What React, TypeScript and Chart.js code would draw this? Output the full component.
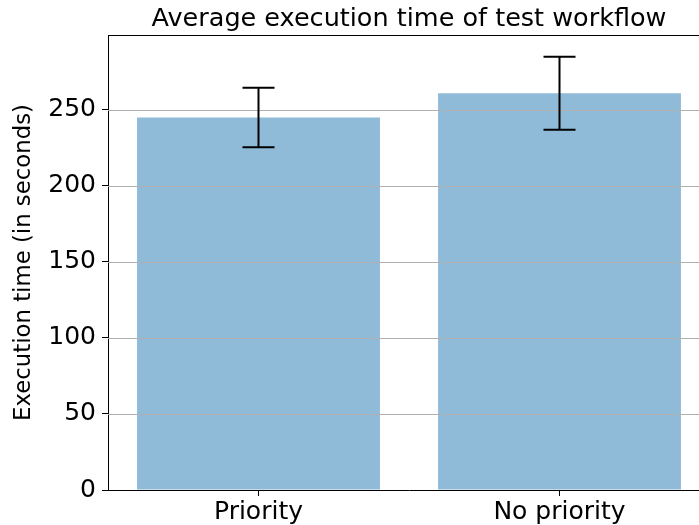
import React, { useEffect, useRef } from "react";
import { Chart, registerables } from "chart.js";

Chart.register(...registerables);

const categories = ["Priority", "No priority"];
const meanTimes = [245, 261];
const errLow = [225.5, 237];
const errHigh = [264.5, 285];
const yTicks = [0, 50, 100, 150, 200, 250];

const titleText = "Average execution time of test workflow";
const yLabel = "Execution time (in seconds)";
const FONT = "'DejaVu Sans', sans-serif";

const extrasPlugin = {
  id: "extras",
  afterDatasetsDraw(chart: any) {
    const ctx = chart.ctx;
    const a = chart.chartArea;
    const ys = chart.scales.y;
    ctx.save();
    ctx.strokeStyle = "#b0b0b0";
    ctx.lineWidth = 1.2;
    yTicks.forEach((v) => {
      if (v === 0) return;
      const y = Math.round(ys.getPixelForValue(v)) + 0.5;
      ctx.beginPath();
      ctx.moveTo(a.left, y);
      ctx.lineTo(a.right, y);
      ctx.stroke();
    });
    ctx.restore();
  },
  afterDraw(chart: any) {
    const ctx = chart.ctx;
    const a = chart.chartArea;
    const meta = chart.getDatasetMeta(0);
    const ys = chart.scales.y;
    ctx.save();
    ctx.strokeStyle = "#000";
    ctx.lineWidth = 2;
    meta.data.forEach((bar: any, i: number) => {
      const x = bar.x;
      const yl = ys.getPixelForValue(errLow[i]);
      const yh = ys.getPixelForValue(errHigh[i]);
      ctx.beginPath();
      ctx.moveTo(x, yl);
      ctx.lineTo(x, yh);
      ctx.moveTo(x - 16, yl);
      ctx.lineTo(x + 16, yl);
      ctx.moveTo(x - 16, yh);
      ctx.lineTo(x + 16, yh);
      ctx.stroke();
    });
    ctx.lineWidth = 1;
    ctx.beginPath();
    ctx.moveTo(a.left, a.top + 0.5);
    ctx.lineTo(a.right, a.top + 0.5);
    ctx.stroke();
    ctx.fillStyle = "#000";
    ctx.font = `25.5px ${FONT}`;
    ctx.textAlign = "center";
    ctx.textBaseline = "alphabetic";
    ctx.fillText(titleText, (a.left + a.right) / 2, 26);
    ctx.restore();
  },
};

export default function App() {
  const ref = useRef<HTMLCanvasElement | null>(null);
  useEffect(() => {
    if (!ref.current) return;
    const chart = new Chart(ref.current, {
      type: "bar",
      data: {
        labels: categories,
        datasets: [
          {
            data: meanTimes,
            backgroundColor: "rgba(31,119,180,0.5)",
            borderWidth: 0,
            barPercentage: 0.807,
            categoryPercentage: 1,
          },
        ],
      },
      options: {
        animation: false,
        responsive: true,
        maintainAspectRatio: false,
        layout: { padding: { top: 35, right: 10, left: 0, bottom: 0 } },
        plugins: {
          legend: { display: false },
          tooltip: { enabled: false },
          title: { display: false },
        },
        scales: {
          x: {
            grid: {
              display: true,
              drawOnChartArea: false,
              drawTicks: true,
              tickLength: 6,
              tickColor: "#000",
              offset: false,
            },
            border: { color: "#000", width: 1 },
            ticks: { color: "#000", font: { family: FONT, size: 25 }, padding: 1 },
            afterFit(scale: any) {
              scale.height = 35;
            },
          },
          y: {
            min: 0,
            max: 299.25,
            grid: {
              drawOnChartArea: false,
              drawTicks: true,
              tickLength: 6,
              tickColor: "#000",
            },
            border: { color: "#000", width: 1 },
            afterBuildTicks(scale: any) {
              scale.ticks = yTicks.map((v) => ({ value: v }));
            },
            ticks: {
              color: "#000",
              font: { family: FONT, size: 25 },
              padding: 6,
            },
            title: {
              display: true,
              text: yLabel,
              color: "#000",
              font: { family: FONT, size: 22.8 },
              padding: { top: 10, bottom: 0 },
            },
            afterFit(scale: any) {
              scale.width = 108;
            },
          },
        },
      },
      plugins: [extrasPlugin],
    });
    return () => chart.destroy();
  }, []);
  return (
    <div style={{ position: "fixed", left: 0, top: 0, width: 699, height: 525, overflow: "hidden", background: "#fff" }}>
      <div style={{ position: "relative", width: 720, height: 525 }}>
        <canvas ref={ref} />
      </div>
    </div>
  );
}
